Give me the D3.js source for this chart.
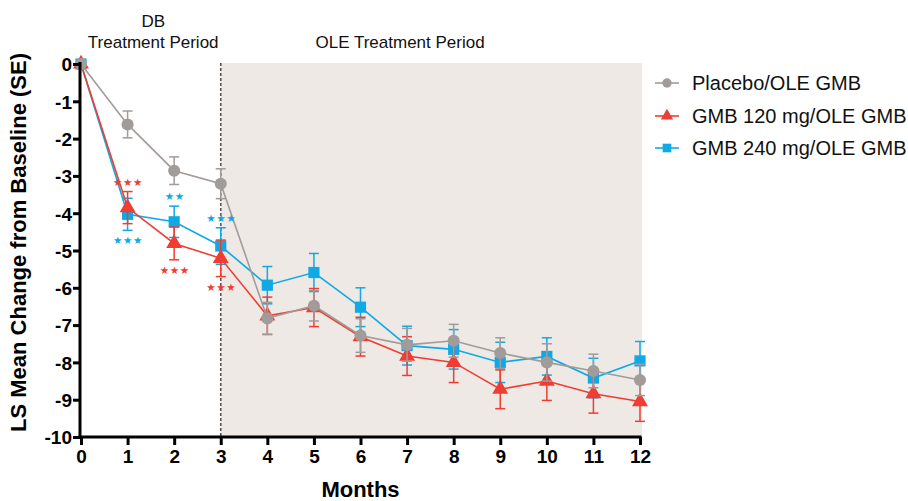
<!DOCTYPE html>
<html><head><meta charset="utf-8">
<script src="https://cdn.jsdelivr.net/npm/d3@7"></script>
<style>
html,body{margin:0;padding:0;background:#fff;}
svg{display:block;font-family:"Liberation Sans",Arial,Helvetica,sans-serif;}
</style></head>
<body>
<svg id="chart" width="908" height="501"></svg>
<script>
const months = [0,1,2,3,4,5,6,7,8,9,10,11,12];
const xTicks = [0,1,2,3,4,5,6,7,8,9,10,11,12];
const yTicks = [0,-1,-2,-3,-4,-5,-6,-7,-8,-9,-10];
const seriesNames = ["Placebo/OLE GMB","GMB 120 mg/OLE GMB","GMB 240 mg/OLE GMB"];
const placeboMean = [0,-1.62,-2.86,-3.21,-6.82,-6.48,-7.28,-7.53,-7.42,-7.75,-8.00,-8.23,-8.47];
const placeboSE   = [0,0.36,0.37,0.40,0.43,0.41,0.45,0.44,0.44,0.41,0.50,0.45,0.42];
const gmb120Mean  = [0,-3.85,-4.81,-5.21,-6.75,-6.53,-7.31,-7.83,-8.00,-8.72,-8.50,-8.84,-9.05];
const gmb120SE    = [0,0.43,0.44,0.49,0.50,0.51,0.52,0.52,0.54,0.52,0.52,0.52,0.53];
const gmb240Mean  = [0,-4.03,-4.23,-4.88,-5.93,-5.59,-6.52,-7.55,-7.65,-8.00,-7.84,-8.42,-7.96];
const gmb240SE    = [0,0.43,0.42,0.49,0.50,0.51,0.52,0.52,0.53,0.54,0.50,0.53,0.52];
// significance markers: month, series index, label, side
const sigMonths = [1,1,2,2,3,3];
const sigSeries = [1,2,2,1,2,1];
const sigLabels = ["★★★","★★★","★★","★★★","★★★","★★★"];
const sigSides  = ["above","below","above","below","above","below"];
const dbSplitMonth = 3;

const colors = ["#a19b99","#ef3d33","#0fa9e6"];
const symbols = [d3.symbolCircle, d3.symbolTriangle, d3.symbolSquare];
const symSizes = [115, 110, 125];

const svg = d3.select("#chart");
const x = d3.scaleLinear().domain([0,12]).range([81,640]);
const y = d3.scaleLinear().domain([-10,0]).range([437,64]);

// OLE shaded region
svg.append("rect")
  .attr("x", x(dbSplitMonth)).attr("y", y(0)-1)
  .attr("width", x(12)-x(dbSplitMonth)+2).attr("height", y(-10)-y(0)+1)
  .attr("fill","#eee9e5");

// dashed divider
svg.append("line")
  .attr("x1", x(dbSplitMonth)).attr("x2", x(dbSplitMonth))
  .attr("y1", y(0)-1).attr("y2", y(-10))
  .attr("stroke","#555").attr("stroke-width",1.6).attr("stroke-dasharray","3,2");

// Period labels
svg.append("text").attr("x", x(1.55)).attr("y", 27).attr("text-anchor","middle")
  .attr("font-size",17).attr("fill","#111").text("DB");
svg.append("text").attr("x", x(1.55)).attr("y", 48).attr("text-anchor","middle")
  .attr("font-size",17).attr("fill","#111").text("Treatment Period");
svg.append("text").attr("x", x(6.85)).attr("y", 48).attr("text-anchor","middle")
  .attr("font-size",17).attr("fill","#111").text("OLE Treatment Period");

// series
const series = [
  {name:seriesNames[0], mean:placeboMean, se:placeboSE, c:colors[0], s:symbols[0], sz:symSizes[0]},
  {name:seriesNames[1], mean:gmb120Mean, se:gmb120SE, c:colors[1], s:symbols[1], sz:symSizes[1]},
  {name:seriesNames[2], mean:gmb240Mean, se:gmb240SE, c:colors[2], s:symbols[2], sz:symSizes[2]}
];
const drawOrder = [2,1,0];
const line = d3.line().x(d=>x(d.m)).y(d=>y(d.v));
drawOrder.forEach(i=>{
  const sr = series[i];
  const pts = months.map((m,k)=>({m, v:sr.mean[k], e:sr.se[k]}));
  const g = svg.append("g");
  pts.filter(p=>p.e>0).forEach(p=>{
    const eg = g.append("g").attr("stroke", sr.c).attr("stroke-width",1.5).attr("fill","none");
    eg.append("line").attr("x1",x(p.m)).attr("x2",x(p.m)).attr("y1",y(p.v+p.e)).attr("y2",y(p.v-p.e));
    eg.append("line").attr("x1",x(p.m)-5).attr("x2",x(p.m)+5).attr("y1",y(p.v+p.e)).attr("y2",y(p.v+p.e));
    eg.append("line").attr("x1",x(p.m)-5).attr("x2",x(p.m)+5).attr("y1",y(p.v-p.e)).attr("y2",y(p.v-p.e));
  });
  g.append("path").datum(pts).attr("d",line).attr("fill","none").attr("stroke",sr.c).attr("stroke-width",1.6);
  g.selectAll("path.pt").data(pts).enter().append("path").attr("class","pt")
    .attr("transform",p=>`translate(${x(p.m)},${y(p.v)})`)
    .attr("d", d3.symbol().type(sr.s).size(sr.sz)).attr("fill",sr.c);
});

// significance stars
sigMonths.forEach((m,k)=>{
  const sr = series[sigSeries[k]];
  const v = sr.mean[m], e = sr.se[m];
  const cy = sigSides[k]==="above" ? y(v+e)-10 : y(v-e)+10;
  svg.append("text").attr("x", x(m)+0.5).attr("y", cy).attr("text-anchor","middle")
    .attr("dominant-baseline","central")
    .attr("font-family",'"DejaVu Sans",sans-serif')
    .attr("font-size",10.5).attr("fill",sr.c).attr("letter-spacing","0.6px").text(sigLabels[k]);
});

// axes
const yAxis = svg.append("g").attr("transform",`translate(${x(0)-1},0)`)
  .call(d3.axisLeft(y).tickValues(yTicks).tickFormat(d3.format("d")).tickSize(7).tickSizeOuter(0));
const xAxis = svg.append("g").attr("transform",`translate(0,${y(-10)})`)
  .call(d3.axisBottom(x).tickValues(xTicks).tickFormat(d3.format("d")).tickSize(8).tickSizeOuter(0));
[yAxis,xAxis].forEach(a=>{
  a.select(".domain").attr("stroke","#000").attr("stroke-width",3);
  a.selectAll(".tick line").attr("stroke","#000").attr("stroke-width",3);
  a.selectAll(".tick text").attr("font-size",19).attr("font-weight","bold").attr("fill","#000")
    .attr("font-family",'"Liberation Sans",Arial,sans-serif');
});
yAxis.select(".domain").attr("d",`M0,${y(0)-2}V${y(-10)+1.5}`);
xAxis.select(".domain").attr("d",`M${x(0)-2.5},0H${x(12)+1.5}`);
yAxis.selectAll(".tick text").attr("x",-8).attr("dy","0.36em").text(d=>d===0?"0":"-"+Math.abs(d));
xAxis.selectAll(".tick text").attr("y",13);

// axis titles
svg.append("text").attr("x", x(6)).attr("y", 497).attr("text-anchor","middle")
  .attr("font-size",22).attr("font-weight","bold").attr("fill","#000").text("Months");
svg.append("text").attr("transform",`translate(26,${(y(0)+y(-10))/2-8}) rotate(-90)`)
  .attr("text-anchor","middle").attr("font-size",22).attr("font-weight","bold").attr("fill","#000")
  .text("LS Mean Change from Baseline (SE)");

// legend
const legY = [83,116,148];
series.forEach((sr,i)=>{
  const g = svg.append("g").attr("transform",`translate(667,${legY[i]})`);
  g.append("line").attr("x1",-12).attr("x2",12).attr("stroke",sr.c).attr("stroke-width",1.6);
  g.append("path").attr("d", d3.symbol().type(sr.s).size(sr.sz*0.6)).attr("fill",sr.c);
  g.append("text").attr("x",25).attr("y",7).attr("font-size",20).attr("fill","#111").text(sr.name);
});
</script>
</body></html>
